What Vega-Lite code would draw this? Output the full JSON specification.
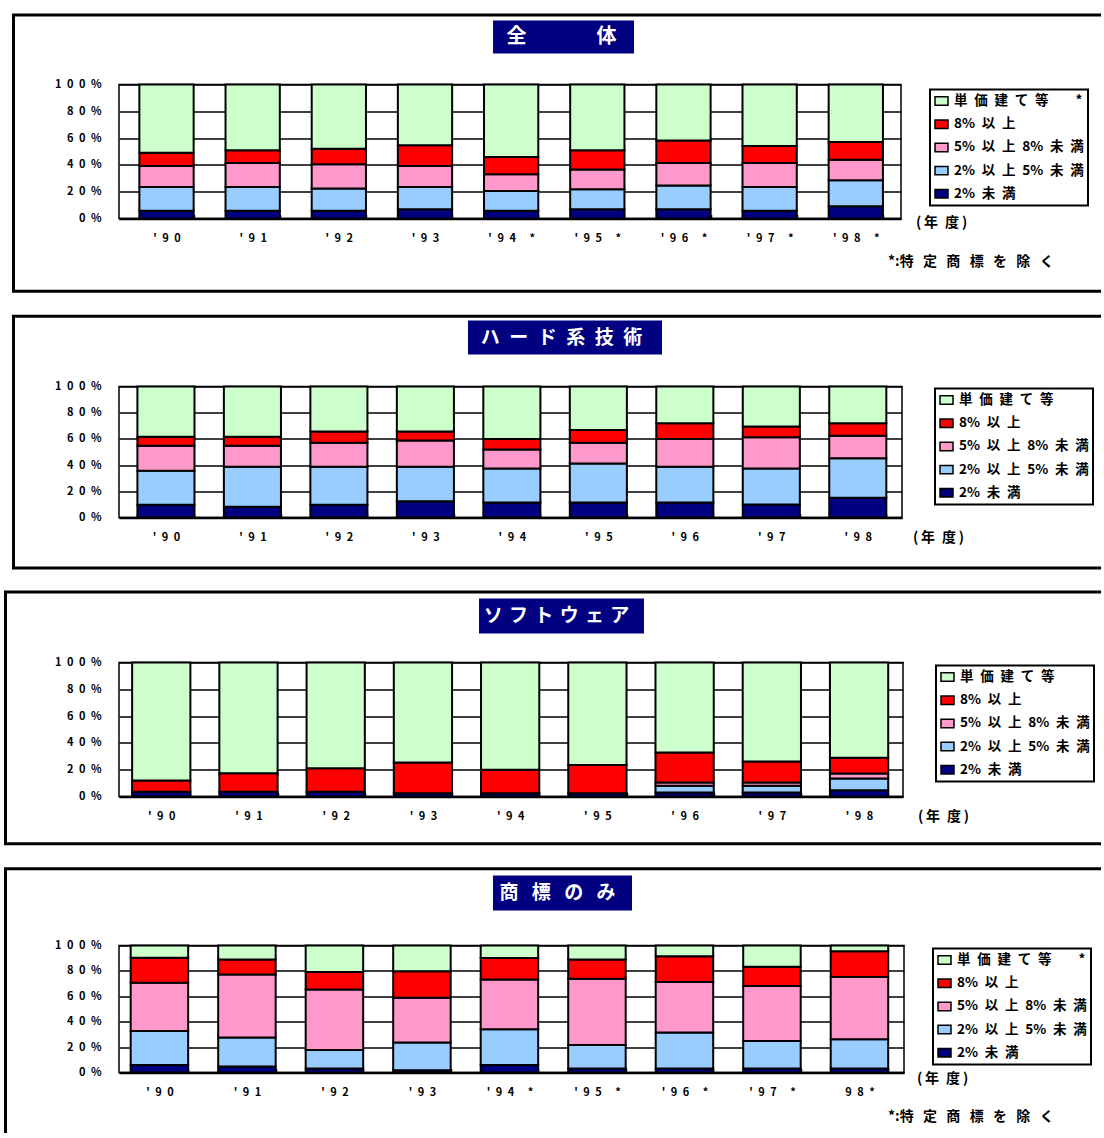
{
  "$schema": "https://vega.github.io/schema/vega-lite/v6.json",
  "background": "white",
  "padding": {"left": 1, "top": 12.5, "right": 0, "bottom": 0},
  "spacing": 19,
  "resolve": {"scale": {"color": "independent"}, "legend": {"color": "independent"}},
  "config": {
    "view": {"stroke": "black", "strokeWidth": 1.5, "fill": "white"},
    "axis": {"labelFont": "Noto Sans CJK JP", "labelFontSize": 11, "labelFontWeight": "bold", "labelColor": "black"},
    "legend": {
      "strokeColor": "black", "strokeWidth": 2, "fillColor": "white", "padding": 4, "rowPadding": 8.2,
      "symbolType": "M-1,-0.65H1V0.65H-1Z", "symbolSize": 169, "symbolStrokeColor": "black", "symbolStrokeWidth": 1.5,
      "labelFont": "Noto Sans CJK JP", "labelFontSize": 13.5, "labelFontWeight": "bold", "labelColor": "black",
      "labelOffset": 5, "labelLimit": 0
    },
    "text": {"font": "Noto Sans CJK JP", "fontWeight": "bold"}
  },
  "datasets": {
    "zentai": [
      {"year": "'90", "k": "2%未満", "v": 5.7}, {"year": "'90", "k": "2%以上5%未満", "v": 17.8}, {"year": "'90", "k": "5%以上8%未満", "v": 15.7}, {"year": "'90", "k": "8%以上", "v": 9.9}, {"year": "'90", "k": "単価建て等", "v": 50.9},
      {"year": "'91", "k": "2%未満", "v": 5.7}, {"year": "'91", "k": "2%以上5%未満", "v": 17.8}, {"year": "'91", "k": "5%以上8%未満", "v": 17.9}, {"year": "'91", "k": "8%以上", "v": 9.5}, {"year": "'91", "k": "単価建て等", "v": 49.1},
      {"year": "'92", "k": "2%未満", "v": 5.7}, {"year": "'92", "k": "2%以上5%未満", "v": 16.6}, {"year": "'92", "k": "5%以上8%未満", "v": 18.1}, {"year": "'92", "k": "8%以上", "v": 11.7}, {"year": "'92", "k": "単価建て等", "v": 47.9},
      {"year": "'93", "k": "2%未満", "v": 6.9}, {"year": "'93", "k": "2%以上5%未満", "v": 16.6}, {"year": "'93", "k": "5%以上8%未満", "v": 15.7}, {"year": "'93", "k": "8%以上", "v": 15.4}, {"year": "'93", "k": "単価建て等", "v": 45.4},
      {"year": "'94 *", "k": "2%未満", "v": 5.7}, {"year": "'94 *", "k": "2%以上5%未満", "v": 14.9}, {"year": "'94 *", "k": "5%以上8%未満", "v": 12.4}, {"year": "'94 *", "k": "8%以上", "v": 12.9}, {"year": "'94 *", "k": "単価建て等", "v": 54.1},
      {"year": "'95 *", "k": "2%未満", "v": 6.9}, {"year": "'95 *", "k": "2%以上5%未満", "v": 14.9}, {"year": "'95 *", "k": "5%以上8%未満", "v": 14.7}, {"year": "'95 *", "k": "8%以上", "v": 14.4}, {"year": "'95 *", "k": "単価建て等", "v": 49.1},
      {"year": "'96 *", "k": "2%未満", "v": 6.9}, {"year": "'96 *", "k": "2%以上5%未満", "v": 17.7}, {"year": "'96 *", "k": "5%以上8%未満", "v": 16.8}, {"year": "'96 *", "k": "8%以上", "v": 16.9}, {"year": "'96 *", "k": "単価建て等", "v": 41.7},
      {"year": "'97 *", "k": "2%未満", "v": 5.7}, {"year": "'97 *", "k": "2%以上5%未満", "v": 17.8}, {"year": "'97 *", "k": "5%以上8%未満", "v": 17.9}, {"year": "'97 *", "k": "8%以上", "v": 12.7}, {"year": "'97 *", "k": "単価建て等", "v": 45.9},
      {"year": "'98 *", "k": "2%未満", "v": 9.2}, {"year": "'98 *", "k": "2%以上5%未満", "v": 19.3}, {"year": "'98 *", "k": "5%以上8%未満", "v": 15.4}, {"year": "'98 *", "k": "8%以上", "v": 13.1}, {"year": "'98 *", "k": "単価建て等", "v": 43.0}
    ],
    "hard": [
      {"year": "'90", "k": "2%未満", "v": 9.7}, {"year": "'90", "k": "2%以上5%未満", "v": 26.0}, {"year": "'90", "k": "5%以上8%未満", "v": 19.1}, {"year": "'90", "k": "8%以上", "v": 6.9}, {"year": "'90", "k": "単価建て等", "v": 38.3},
      {"year": "'91", "k": "2%未満", "v": 8.2}, {"year": "'91", "k": "2%以上5%未満", "v": 30.6}, {"year": "'91", "k": "5%以上8%未満", "v": 16.0}, {"year": "'91", "k": "8%以上", "v": 6.9}, {"year": "'91", "k": "単価建て等", "v": 38.3},
      {"year": "'92", "k": "2%未満", "v": 9.7}, {"year": "'92", "k": "2%以上5%未満", "v": 29.1}, {"year": "'92", "k": "5%以上8%未満", "v": 18.3}, {"year": "'92", "k": "8%以上", "v": 8.5}, {"year": "'92", "k": "単価建て等", "v": 34.4},
      {"year": "'93", "k": "2%未満", "v": 12.5}, {"year": "'93", "k": "2%以上5%未満", "v": 26.3}, {"year": "'93", "k": "5%以上8%未満", "v": 19.9}, {"year": "'93", "k": "8%以上", "v": 6.9}, {"year": "'93", "k": "単価建て等", "v": 34.4},
      {"year": "'94", "k": "2%未満", "v": 11.5}, {"year": "'94", "k": "2%以上5%未満", "v": 26.0}, {"year": "'94", "k": "5%以上8%未満", "v": 14.5}, {"year": "'94", "k": "8%以上", "v": 7.9}, {"year": "'94", "k": "単価建て等", "v": 40.1},
      {"year": "'95", "k": "2%未満", "v": 11.5}, {"year": "'95", "k": "2%以上5%未満", "v": 29.8}, {"year": "'95", "k": "5%以上8%未満", "v": 15.8}, {"year": "'95", "k": "8%以上", "v": 9.7}, {"year": "'95", "k": "単価建て等", "v": 33.2},
      {"year": "'96", "k": "2%未満", "v": 11.5}, {"year": "'96", "k": "2%以上5%未満", "v": 27.3}, {"year": "'96", "k": "5%以上8%未満", "v": 21.1}, {"year": "'96", "k": "8%以上", "v": 12.0}, {"year": "'96", "k": "単価建て等", "v": 28.1},
      {"year": "'97", "k": "2%未満", "v": 9.9}, {"year": "'97", "k": "2%以上5%未満", "v": 27.6}, {"year": "'97", "k": "5%以上8%未満", "v": 23.7}, {"year": "'97", "k": "8%以上", "v": 8.2}, {"year": "'97", "k": "単価建て等", "v": 30.6},
      {"year": "'98", "k": "2%未満", "v": 15.1}, {"year": "'98", "k": "2%以上5%未満", "v": 30.1}, {"year": "'98", "k": "5%以上8%未満", "v": 17.3}, {"year": "'98", "k": "8%以上", "v": 9.4}, {"year": "'98", "k": "単価建て等", "v": 28.1}
    ],
    "soft": [
      {"year": "'90", "k": "2%未満", "v": 3.5}, {"year": "'90", "k": "8%以上", "v": 8.4}, {"year": "'90", "k": "単価建て等", "v": 88.1},
      {"year": "'91", "k": "2%未満", "v": 3.5}, {"year": "'91", "k": "8%以上", "v": 13.9}, {"year": "'91", "k": "単価建て等", "v": 82.6},
      {"year": "'92", "k": "2%未満", "v": 3.5}, {"year": "'92", "k": "8%以上", "v": 17.6}, {"year": "'92", "k": "単価建て等", "v": 78.9},
      {"year": "'93", "k": "2%未満", "v": 2.5}, {"year": "'93", "k": "8%以上", "v": 22.9}, {"year": "'93", "k": "単価建て等", "v": 74.6},
      {"year": "'94", "k": "2%未満", "v": 2.5}, {"year": "'94", "k": "8%以上", "v": 17.4}, {"year": "'94", "k": "単価建て等", "v": 80.1},
      {"year": "'95", "k": "2%未満", "v": 2.5}, {"year": "'95", "k": "8%以上", "v": 21.1}, {"year": "'95", "k": "単価建て等", "v": 76.4},
      {"year": "'96", "k": "2%未満", "v": 3.0}, {"year": "'96", "k": "2%以上5%未満", "v": 5.0}, {"year": "'96", "k": "5%以上8%未満", "v": 2.4}, {"year": "'96", "k": "8%以上", "v": 22.4}, {"year": "'96", "k": "単価建て等", "v": 67.2},
      {"year": "'97", "k": "2%未満", "v": 3.0}, {"year": "'97", "k": "2%以上5%未満", "v": 5.0}, {"year": "'97", "k": "5%以上8%未満", "v": 2.4}, {"year": "'97", "k": "8%以上", "v": 15.7}, {"year": "'97", "k": "単価建て等", "v": 73.9},
      {"year": "'98", "k": "2%未満", "v": 4.7}, {"year": "'98", "k": "2%以上5%未満", "v": 8.7}, {"year": "'98", "k": "5%以上8%未満", "v": 3.8}, {"year": "'98", "k": "8%以上", "v": 11.7}, {"year": "'98", "k": "単価建て等", "v": 71.1}
    ],
    "shohyo": [
      {"year": "'90", "k": "2%未満", "v": 6.0}, {"year": "'90", "k": "2%以上5%未満", "v": 26.7}, {"year": "'90", "k": "5%以上8%未満", "v": 38.0}, {"year": "'90", "k": "8%以上", "v": 19.6}, {"year": "'90", "k": "単価建て等", "v": 9.7},
      {"year": "'91", "k": "2%未満", "v": 4.7}, {"year": "'91", "k": "2%以上5%未満", "v": 22.8}, {"year": "'91", "k": "5%以上8%未満", "v": 49.7}, {"year": "'91", "k": "8%以上", "v": 11.8}, {"year": "'91", "k": "単価建て等", "v": 11.0},
      {"year": "'92", "k": "2%未満", "v": 3.1}, {"year": "'92", "k": "2%以上5%未満", "v": 14.7}, {"year": "'92", "k": "5%以上8%未満", "v": 47.6}, {"year": "'92", "k": "8%以上", "v": 13.7}, {"year": "'92", "k": "単価建て等", "v": 20.9},
      {"year": "'93", "k": "2%未満", "v": 1.8}, {"year": "'93", "k": "2%以上5%未満", "v": 21.8}, {"year": "'93", "k": "5%以上8%未満", "v": 35.3}, {"year": "'93", "k": "8%以上", "v": 20.9}, {"year": "'93", "k": "単価建て等", "v": 20.2},
      {"year": "'94 *", "k": "2%未満", "v": 6.0}, {"year": "'94 *", "k": "2%以上5%未満", "v": 28.0}, {"year": "'94 *", "k": "5%以上8%未満", "v": 39.3}, {"year": "'94 *", "k": "8%以上", "v": 16.8}, {"year": "'94 *", "k": "単価建て等", "v": 9.9},
      {"year": "'95 *", "k": "2%未満", "v": 3.1}, {"year": "'95 *", "k": "2%以上5%未満", "v": 18.6}, {"year": "'95 *", "k": "5%以上8%未満", "v": 52.1}, {"year": "'95 *", "k": "8%以上", "v": 15.2}, {"year": "'95 *", "k": "単価建て等", "v": 11.0},
      {"year": "'96 *", "k": "2%未満", "v": 3.1}, {"year": "'96 *", "k": "2%以上5%未満", "v": 28.3}, {"year": "'96 *", "k": "5%以上8%未満", "v": 39.8}, {"year": "'96 *", "k": "8%以上", "v": 20.4}, {"year": "'96 *", "k": "単価建て等", "v": 8.4},
      {"year": "'97 *", "k": "2%未満", "v": 3.1}, {"year": "'97 *", "k": "2%以上5%未満", "v": 21.8}, {"year": "'97 *", "k": "5%以上8%未満", "v": 43.2}, {"year": "'97 *", "k": "8%以上", "v": 15.1}, {"year": "'97 *", "k": "単価建て等", "v": 16.8},
      {"year": "98*", "k": "2%未満", "v": 3.1}, {"year": "98*", "k": "2%以上5%未満", "v": 23.1}, {"year": "98*", "k": "5%以上8%未満", "v": 48.9}, {"year": "98*", "k": "8%以上", "v": 20.4}, {"year": "98*", "k": "単価建て等", "v": 4.5}
    ]
  },
  "vconcat": [
    {
      "width": 782, "height": 134,
      "resolve": {"scale": {"x": "independent"}, "axis": {"y": "independent"}},
      "layer": [
        {
          "data": {"name": "zentai"},
          "transform": [{"calculate": "indexof(['2%未満', '2%以上5%未満', '5%以上8%未満', '8%以上', '単価建て等'], datum.k)", "as": "o"}],
          "mark": {"type": "bar", "stroke": "black", "strokeWidth": 2},
          "encoding": {
            "x": {"field": "year", "type": "ordinal", "sort": null, "title": null,
                  "scale": {"paddingInner": 0.37, "paddingOuter": 0.223, "align": 0.53},
                  "axis": {"orient": "bottom", "labelExpr": "join(split(datum.label, ''), '\u2002')", "labelAngle": 0, "labelPadding": 18, "domainColor": "black", "domainWidth": 2.5, "ticks": true, "tickBand": "extent", "tickSize": -4, "tickColor": "black", "tickWidth": 1.5}},
            "y": {"field": "v", "type": "quantitative", "stack": "zero", "title": null,
                  "scale": {"domain": [0, 100]},
                  "axis": {"orient": "left", "values": [0, 20, 40, 60, 80, 100], "labelExpr": "join(split(datum.label + '%', ''), '\u2002')", "grid": true, "gridColor": "black", "gridWidth": 1.5, "gridOpacity": 1, "ticks": false, "domain": false, "labelPadding": 18}},
            "color": {"field": "k", "type": "nominal",
                      "scale": {"domain": ["単価建て等", "8%以上", "5%以上8%未満", "2%以上5%未満", "2%未満"], "range": ["#CCFFCC", "#FF0000", "#FF99CC", "#99CCFF", "#000080"]},
                      "legend": {"orient": "none", "legendX": 811, "legendY": 5, "title": null,
                                 "labelExpr": "replace(join(split(datum.label, ''), '\u2002'), regexp('\u2002%', 'g'), '%') + (datum.value == '単価建て等' ? '\u3000\u3000*' : '')"}},
            "order": {"field": "o", "type": "quantitative"}
          }
        },
        {"data": {"values": [{}]}, "mark": {"type": "rule", "color": "black", "strokeWidth": 3},
         "encoding": {"x": {"datum": -13.49, "type": "quantitative", "scale": {"domain": [0, 100]}, "axis": null},
                      "y": {"datum": 151.87, "type": "quantitative", "scale": {"domain": [0, 100]}, "axis": null}, "y2": {"datum": -54.33}}},
        {"data": {"values": [{}]}, "mark": {"type": "rule", "color": "black", "strokeWidth": 3},
         "encoding": {"x": {"datum": -13.68, "type": "quantitative", "scale": {"domain": [0, 100]}, "axis": null}, "x2": {"datum": 125.58},
                      "y": {"datum": 151.87, "type": "quantitative", "scale": {"domain": [0, 100]}, "axis": null}}},
        {"data": {"values": [{}]}, "mark": {"type": "rule", "color": "black", "strokeWidth": 3},
         "encoding": {"x": {"datum": -13.68, "type": "quantitative", "scale": {"domain": [0, 100]}, "axis": null}, "x2": {"datum": 125.58},
                      "y": {"datum": -54.33, "type": "quantitative", "scale": {"domain": [0, 100]}, "axis": null}}},
        {"data": {"values": [{}]}, "mark": {"type": "rect", "color": "#000080"},
         "encoding": {"x": {"datum": 47.83, "type": "quantitative", "scale": {"domain": [0, 100]}, "axis": null}, "x2": {"datum": 65.86},
                      "y": {"datum": 147.76, "type": "quantitative", "scale": {"domain": [0, 100]}, "axis": null}, "y2": {"datum": 123.13}}},
        {"data": {"values": [{}]}, "mark": {"type": "text", "text": "全\u3000\u3000\u3000\u2002体", "color": "white", "fontSize": 20, "align": "center", "baseline": "middle"},
         "encoding": {"x": {"datum": 56.59, "type": "quantitative", "scale": {"domain": [0, 100]}, "axis": null},
                      "y": {"datum": 135.45, "type": "quantitative", "scale": {"domain": [0, 100]}, "axis": null}}},
        {"data": {"values": [{}]}, "mark": {"type": "text", "text": "(\u2009年\u2002度\u2009)", "color": "black", "fontSize": 14, "align": "left", "baseline": "middle"},
         "encoding": {"x": {"datum": 101.92, "type": "quantitative", "scale": {"domain": [0, 100]}, "axis": null},
                      "y": {"datum": -2.99, "type": "quantitative", "scale": {"domain": [0, 100]}, "axis": null}}},
        {"data": {"values": [{}]}, "mark": {"type": "text", "text": "*:特\u2002\u2006定\u2002\u2006商\u2002\u2006標\u2002\u2006を\u2002\u2006除\u2002\u2006く", "color": "black", "fontSize": 14, "align": "left", "baseline": "middle"},
         "encoding": {"x": {"datum": 98.34, "type": "quantitative", "scale": {"domain": [0, 100]}, "axis": null},
                      "y": {"datum": -32.09, "type": "quantitative", "scale": {"domain": [0, 100]}, "axis": null}}}
      ]
    },
    {
      "width": 783, "height": 131,
      "resolve": {"scale": {"x": "independent"}, "axis": {"y": "independent"}},
      "layer": [
        {
          "data": {"name": "hard"},
          "transform": [{"calculate": "indexof(['2%未満', '2%以上5%未満', '5%以上8%未満', '8%以上', '単価建て等'], datum.k)", "as": "o"}],
          "mark": {"type": "bar", "stroke": "black", "strokeWidth": 2},
          "encoding": {
            "x": {"field": "year", "type": "ordinal", "sort": null, "title": null,
                  "scale": {"paddingInner": 0.34, "paddingOuter": 0.197, "align": 0.54},
                  "axis": {"orient": "bottom", "labelExpr": "join(split(datum.label, ''), '\u2002')", "labelAngle": 0, "labelPadding": 18, "domainColor": "black", "domainWidth": 2.5, "ticks": true, "tickBand": "extent", "tickSize": -4, "tickColor": "black", "tickWidth": 1.5}},
            "y": {"field": "v", "type": "quantitative", "stack": "zero", "title": null,
                  "scale": {"domain": [0, 100]},
                  "axis": {"orient": "left", "values": [0, 20, 40, 60, 80, 100], "labelExpr": "join(split(datum.label + '%', ''), '\u2002')", "grid": true, "gridColor": "black", "gridWidth": 1.5, "gridOpacity": 1, "ticks": false, "domain": false, "labelPadding": 18}},
            "color": {"field": "k", "type": "nominal",
                      "scale": {"domain": ["単価建て等", "8%以上", "5%以上8%未満", "2%以上5%未満", "2%未満"], "range": ["#CCFFCC", "#FF0000", "#FF99CC", "#99CCFF", "#000080"]},
                      "legend": {"orient": "none", "legendX": 816, "legendY": 2, "title": null,
                                 "labelExpr": "replace(join(split(datum.label, ''), '\u2002'), regexp('\u2002%', 'g'), '%')"}},
            "order": {"field": "o", "type": "quantitative"}
          }
        },
        {"data": {"values": [{}]}, "mark": {"type": "rule", "color": "black", "strokeWidth": 3},
         "encoding": {"x": {"datum": -13.47, "type": "quantitative", "scale": {"domain": [0, 100]}, "axis": null},
                      "y": {"datum": 153.59, "type": "quantitative", "scale": {"domain": [0, 100]}, "axis": null}, "y2": {"datum": -38.55}}},
        {"data": {"values": [{}]}, "mark": {"type": "rule", "color": "black", "strokeWidth": 3},
         "encoding": {"x": {"datum": -13.67, "type": "quantitative", "scale": {"domain": [0, 100]}, "axis": null}, "x2": {"datum": 125.42},
                      "y": {"datum": 153.59, "type": "quantitative", "scale": {"domain": [0, 100]}, "axis": null}}},
        {"data": {"values": [{}]}, "mark": {"type": "rule", "color": "black", "strokeWidth": 3},
         "encoding": {"x": {"datum": -13.67, "type": "quantitative", "scale": {"domain": [0, 100]}, "axis": null}, "x2": {"datum": 125.42},
                      "y": {"datum": -38.55, "type": "quantitative", "scale": {"domain": [0, 100]}, "axis": null}}},
        {"data": {"values": [{}]}, "mark": {"type": "rect", "color": "#000080"},
         "encoding": {"x": {"datum": 44.57, "type": "quantitative", "scale": {"domain": [0, 100]}, "axis": null}, "x2": {"datum": 69.35},
                      "y": {"datum": 150.38, "type": "quantitative", "scale": {"domain": [0, 100]}, "axis": null}, "y2": {"datum": 124.43}}},
        {"data": {"values": [{}]}, "mark": {"type": "text", "text": "ハ\u2002ー\u2002ド\u2002系\u2002技\u2002術", "color": "white", "fontSize": 19, "align": "center", "baseline": "middle"},
         "encoding": {"x": {"datum": 56.51, "type": "quantitative", "scale": {"domain": [0, 100]}, "axis": null},
                      "y": {"datum": 137.4, "type": "quantitative", "scale": {"domain": [0, 100]}, "axis": null}}},
        {"data": {"values": [{}]}, "mark": {"type": "text", "text": "(\u2009年\u2002度\u2009)", "color": "black", "fontSize": 14, "align": "left", "baseline": "middle"},
         "encoding": {"x": {"datum": 101.4, "type": "quantitative", "scale": {"domain": [0, 100]}, "axis": null},
                      "y": {"datum": -15.27, "type": "quantitative", "scale": {"domain": [0, 100]}, "axis": null}}}
      ]
    },
    {
      "width": 784, "height": 134,
      "resolve": {"scale": {"x": "independent"}, "axis": {"y": "independent"}},
      "layer": [
        {
          "data": {"name": "soft"},
          "transform": [{"calculate": "indexof(['2%未満', '2%以上5%未満', '5%以上8%未満', '8%以上', '単価建て等'], datum.k)", "as": "o"}],
          "mark": {"type": "bar", "stroke": "black", "strokeWidth": 2},
          "encoding": {
            "x": {"field": "year", "type": "ordinal", "sort": null, "title": null,
                  "scale": {"paddingInner": 0.332, "paddingOuter": 0.16, "align": 0.47},
                  "axis": {"orient": "bottom", "labelExpr": "join(split(datum.label, ''), '\u2002')", "labelAngle": 0, "labelPadding": 18, "domainColor": "black", "domainWidth": 2.5, "ticks": true, "tickBand": "extent", "tickSize": -4, "tickColor": "black", "tickWidth": 1.5}},
            "y": {"field": "v", "type": "quantitative", "stack": "zero", "title": null,
                  "scale": {"domain": [0, 100]},
                  "axis": {"orient": "left", "values": [0, 20, 40, 60, 80, 100], "labelExpr": "join(split(datum.label + '%', ''), '\u2002')", "grid": true, "gridColor": "black", "gridWidth": 1.5, "gridOpacity": 1, "ticks": false, "domain": false, "labelPadding": 18}},
            "color": {"field": "k", "type": "nominal",
                      "scale": {"domain": ["単価建て等", "8%以上", "5%以上8%未満", "2%以上5%未満", "2%未満"], "range": ["#CCFFCC", "#FF0000", "#FF99CC", "#99CCFF", "#000080"]},
                      "legend": {"orient": "none", "legendX": 817, "legendY": 3, "title": null,
                                 "labelExpr": "replace(join(split(datum.label, ''), '\u2002'), regexp('\u2002%', 'g'), '%')"}},
            "order": {"field": "o", "type": "quantitative"}
          }
        },
        {"data": {"values": [{}]}, "mark": {"type": "rule", "color": "black", "strokeWidth": 3},
         "encoding": {"x": {"datum": -14.48, "type": "quantitative", "scale": {"domain": [0, 100]}, "axis": null},
                      "y": {"datum": 152.61, "type": "quantitative", "scale": {"domain": [0, 100]}, "axis": null}, "y2": {"datum": -35.22}}},
        {"data": {"values": [{}]}, "mark": {"type": "rule", "color": "black", "strokeWidth": 3},
         "encoding": {"x": {"datum": -14.67, "type": "quantitative", "scale": {"domain": [0, 100]}, "axis": null}, "x2": {"datum": 125.26},
                      "y": {"datum": 152.61, "type": "quantitative", "scale": {"domain": [0, 100]}, "axis": null}}},
        {"data": {"values": [{}]}, "mark": {"type": "rule", "color": "black", "strokeWidth": 3},
         "encoding": {"x": {"datum": -14.67, "type": "quantitative", "scale": {"domain": [0, 100]}, "axis": null}, "x2": {"datum": 125.26},
                      "y": {"datum": -35.22, "type": "quantitative", "scale": {"domain": [0, 100]}, "axis": null}}},
        {"data": {"values": [{}]}, "mark": {"type": "rect", "color": "#000080"},
         "encoding": {"x": {"datum": 45.92, "type": "quantitative", "scale": {"domain": [0, 100]}, "axis": null}, "x2": {"datum": 66.96},
                      "y": {"datum": 147.76, "type": "quantitative", "scale": {"domain": [0, 100]}, "axis": null}, "y2": {"datum": 121.64}}},
        {"data": {"values": [{}]}, "mark": {"type": "text", "text": "ソ\u2004フ\u2004ト\u2004ウ\u2004ェ\u2004ア", "color": "white", "fontSize": 19, "align": "center", "baseline": "middle"},
         "encoding": {"x": {"datum": 55.8, "type": "quantitative", "scale": {"domain": [0, 100]}, "axis": null},
                      "y": {"datum": 134.7, "type": "quantitative", "scale": {"domain": [0, 100]}, "axis": null}}},
        {"data": {"values": [{}]}, "mark": {"type": "text", "text": "(\u2009年\u2002度\u2009)", "color": "black", "fontSize": 14, "align": "left", "baseline": "middle"},
         "encoding": {"x": {"datum": 101.91, "type": "quantitative", "scale": {"domain": [0, 100]}, "axis": null},
                      "y": {"datum": -14.93, "type": "quantitative", "scale": {"domain": [0, 100]}, "axis": null}}}
      ]
    },
    {
      "width": 785, "height": 127,
      "resolve": {"scale": {"x": "independent"}, "axis": {"y": "independent"}},
      "layer": [
        {
          "data": {"name": "shohyo"},
          "transform": [{"calculate": "indexof(['2%未満', '2%以上5%未満', '5%以上8%未満', '8%以上', '単価建て等'], datum.k)", "as": "o"}],
          "mark": {"type": "bar", "stroke": "black", "strokeWidth": 2},
          "encoding": {
            "x": {"field": "year", "type": "ordinal", "sort": null, "title": null,
                  "scale": {"paddingInner": 0.343, "paddingOuter": 0.157, "align": 0.425},
                  "axis": {"orient": "bottom", "labelExpr": "join(split(datum.label, ''), '\u2002')", "labelAngle": 0, "labelPadding": 18, "domainColor": "black", "domainWidth": 2.5, "ticks": true, "tickBand": "extent", "tickSize": -4, "tickColor": "black", "tickWidth": 1.5}},
            "y": {"field": "v", "type": "quantitative", "stack": "zero", "title": null,
                  "scale": {"domain": [0, 100]},
                  "axis": {"orient": "left", "values": [0, 20, 40, 60, 80, 100], "labelExpr": "join(split(datum.label + '%', ''), '\u2002')", "grid": true, "gridColor": "black", "gridWidth": 1.5, "gridOpacity": 1, "ticks": false, "domain": false, "labelPadding": 18}},
            "color": {"field": "k", "type": "nominal",
                      "scale": {"domain": ["単価建て等", "8%以上", "5%以上8%未満", "2%以上5%未満", "2%未満"], "range": ["#CCFFCC", "#FF0000", "#FF99CC", "#99CCFF", "#000080"]},
                      "legend": {"orient": "none", "legendX": 814, "legendY": 3, "title": null,
                                 "labelExpr": "replace(join(split(datum.label, ''), '\u2002'), regexp('\u2002%', 'g'), '%') + (datum.value == '単価建て等' ? '\u3000\u3000*' : '')"}},
            "order": {"field": "o", "type": "quantitative"}
          }
        },
        {"data": {"values": [{}]}, "mark": {"type": "rule", "color": "black", "strokeWidth": 3},
         "encoding": {"x": {"datum": -14.46, "type": "quantitative", "scale": {"domain": [0, 100]}, "axis": null},
                      "y": {"datum": 160.47, "type": "quantitative", "scale": {"domain": [0, 100]}, "axis": null}, "y2": {"datum": -47.64}}},
        {"data": {"values": [{}]}, "mark": {"type": "rule", "color": "black", "strokeWidth": 3},
         "encoding": {"x": {"datum": -14.65, "type": "quantitative", "scale": {"domain": [0, 100]}, "axis": null}, "x2": {"datum": 125.1},
                      "y": {"datum": 160.47, "type": "quantitative", "scale": {"domain": [0, 100]}, "axis": null}}},
        {"data": {"values": [{}]}, "mark": {"type": "rect", "color": "#000080"},
         "encoding": {"x": {"datum": 47.64, "type": "quantitative", "scale": {"domain": [0, 100]}, "axis": null}, "x2": {"datum": 65.35},
                      "y": {"datum": 155.12, "type": "quantitative", "scale": {"domain": [0, 100]}, "axis": null}, "y2": {"datum": 127.56}}},
        {"data": {"values": [{}]}, "mark": {"type": "text", "text": "商\u2002\u2009標\u2002\u2009の\u2002\u2009み", "color": "white", "fontSize": 19, "align": "center", "baseline": "middle"},
         "encoding": {"x": {"datum": 55.86, "type": "quantitative", "scale": {"domain": [0, 100]}, "axis": null},
                      "y": {"datum": 141.34, "type": "quantitative", "scale": {"domain": [0, 100]}, "axis": null}}},
        {"data": {"values": [{}]}, "mark": {"type": "text", "text": "(\u2009年\u2002度\u2009)", "color": "black", "fontSize": 14, "align": "left", "baseline": "middle"},
         "encoding": {"x": {"datum": 101.66, "type": "quantitative", "scale": {"domain": [0, 100]}, "axis": null},
                      "y": {"datum": -5.51, "type": "quantitative", "scale": {"domain": [0, 100]}, "axis": null}}},
        {"data": {"values": [{}]}, "mark": {"type": "text", "text": "*:特\u2002\u2006定\u2002\u2006商\u2002\u2006標\u2002\u2006を\u2002\u2006除\u2002\u2006く", "color": "black", "fontSize": 14, "align": "left", "baseline": "middle"},
         "encoding": {"x": {"datum": 97.96, "type": "quantitative", "scale": {"domain": [0, 100]}, "axis": null},
                      "y": {"datum": -35.43, "type": "quantitative", "scale": {"domain": [0, 100]}, "axis": null}}}
      ]
    }
  ]
}
